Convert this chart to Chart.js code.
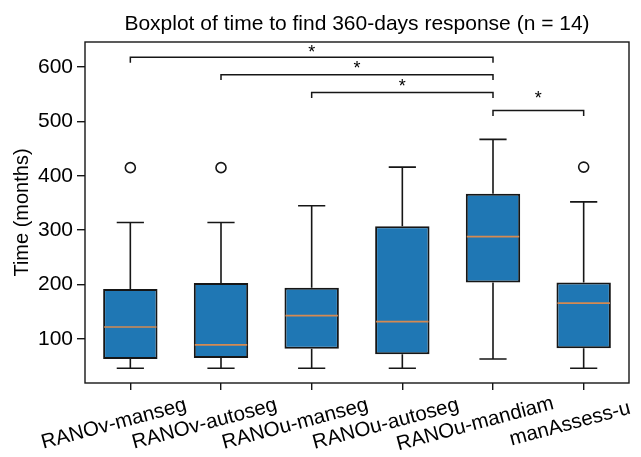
<!DOCTYPE html>
<html>
<head>
<meta charset="utf-8">
<script src="https://cdn.jsdelivr.net/npm/chart.js@4.4.1/dist/chart.umd.min.js"></script>
<style>
  body { margin: 0; background: #fff; }
  #wrap { width: 641px; height: 457px; position: relative; }
</style>
</head>
<body>
<div id="wrap"><canvas id="myChart"></canvas></div>
<script>
// datos
const categorias = ['RANOv-manseg', 'RANOv-autoseg', 'RANOu-manseg', 'RANOu-autoseg', 'RANOu-mandiam', 'manAssess-u'];
const bigoteBajo = [46, 46, 46, 46, 63, 46];
const q1 = [63, 65, 82, 72, 204, 83];
const medianas = [122, 89, 143, 132, 288, 166];
const q3 = [192, 203, 194, 307, 367, 204];
const bigoteAlto = [314, 314, 345, 416, 467, 352];
const atipicos = [415, 415, null, null, null, 416];
const ticksY = [100, 200, 300, 400, 500, 600];

// corchetes de significancia
const corcheteDesde = [0, 1, 2, 4];
const corcheteHasta = [4, 4, 4, 5];
const corcheteNivel = [618, 586, 553, 520];
const estrellaNivel = [632, 601, 569, 546];

const titulo = 'Boxplot of time to find 360-days response (n = 14)';
const tituloY = 'Time (months)';

const fuente = '"Liberation Sans", Arial, sans-serif';
const azul = '#1f77b4';
const colorMediana = '#d58a52';
const negro = '#161616';

const dibujoCajas = {
  id: 'dibujoCajas',
  afterDatasetsDraw(chart) {
    const ctx = chart.ctx;
    const x = chart.scales.x;
    const y = chart.scales.y;
    const area = chart.chartArea;
    const paso = x.getPixelForValue(1) - x.getPixelForValue(0);
    const anchoCaja = paso * 0.6;
    const anchoTapa = anchoCaja / 2;

    ctx.save();
    ctx.lineCap = 'butt';
    for (let i = 0; i < categorias.length; i++) {
      const cx = x.getPixelForValue(i);
      // bigotes
      ctx.strokeStyle = negro;
      ctx.lineWidth = 1.6;
      ctx.beginPath();
      ctx.moveTo(cx, y.getPixelForValue(q3[i]));
      ctx.lineTo(cx, y.getPixelForValue(bigoteAlto[i]));
      ctx.moveTo(cx, y.getPixelForValue(q1[i]));
      ctx.lineTo(cx, y.getPixelForValue(bigoteBajo[i]));
      ctx.moveTo(cx - anchoTapa / 2, y.getPixelForValue(bigoteAlto[i]));
      ctx.lineTo(cx + anchoTapa / 2, y.getPixelForValue(bigoteAlto[i]));
      ctx.moveTo(cx - anchoTapa / 2, y.getPixelForValue(bigoteBajo[i]));
      ctx.lineTo(cx + anchoTapa / 2, y.getPixelForValue(bigoteBajo[i]));
      ctx.stroke();
      // mediana
      ctx.strokeStyle = colorMediana;
      ctx.lineWidth = 1.7;
      ctx.beginPath();
      ctx.moveTo(cx - anchoCaja / 2 + 1, y.getPixelForValue(medianas[i]));
      ctx.lineTo(cx + anchoCaja / 2 - 1, y.getPixelForValue(medianas[i]));
      ctx.stroke();
    }

    // corchetes
    ctx.strokeStyle = negro;
    ctx.lineWidth = 1.5;
    ctx.fillStyle = '#000';
    ctx.font = '18px ' + fuente;
    ctx.textAlign = 'center';
    ctx.textBaseline = 'middle';
    for (let k = 0; k < corcheteDesde.length; k++) {
      const x1 = x.getPixelForValue(corcheteDesde[k]);
      const x2 = x.getPixelForValue(corcheteHasta[k]);
      const yn = y.getPixelForValue(corcheteNivel[k]);
      const yb = y.getPixelForValue(corcheteNivel[k] - 10);
      ctx.beginPath();
      ctx.moveTo(x1, yb);
      ctx.lineTo(x1, yn);
      ctx.lineTo(x2, yn);
      ctx.lineTo(x2, yb);
      ctx.stroke();
      ctx.fillText('*', (x1 + x2) / 2, y.getPixelForValue(estrellaNivel[k]) + 3);
    }

    // marco
    ctx.strokeStyle = negro;
    ctx.lineWidth = 1.4;
    ctx.strokeRect(area.left, area.top, area.right - area.left, area.bottom - area.top);

    // titulo
    ctx.font = '21px ' + fuente;
    ctx.textBaseline = 'alphabetic';
    ctx.fillText(titulo, (area.left + area.right) / 2, 29.5);

    // etiquetas del eje x
    ctx.font = '20.5px ' + fuente;
    ctx.textBaseline = 'middle';
    for (let i = 0; i < categorias.length; i++) {
      const w = ctx.measureText(categorias[i]).width;
      const cx = x.getPixelForValue(i) - 0.11 * w;
      ctx.save();
      ctx.translate(cx, area.bottom + 41);
      ctx.rotate(-15 * Math.PI / 180);
      ctx.fillText(categorias[i], 0, 0);
      ctx.restore();
    }
    ctx.restore();
  }
};

const config = {
  type: 'bar',
  data: {
    labels: categorias,
    datasets: [
      {
        type: 'bar',
        data: q1.map((v, i) => [v, q3[i]]),
        backgroundColor: azul,
        borderColor: negro,
        borderWidth: 2,
        borderSkipped: false,
        barPercentage: 0.6,
        categoryPercentage: 1.0
      },
      {
        type: 'line',
        data: atipicos,
        showLine: false,
        pointStyle: 'circle',
        pointRadius: 5,
        pointBackgroundColor: 'rgba(0,0,0,0)',
        pointBorderColor: negro,
        pointBorderWidth: 1.6
      }
    ]
  },
  options: {
    responsive: true,
    maintainAspectRatio: false,
    animation: false,
    layout: { padding: { top: 42, right: 12, bottom: 0, left: 0 } },
    plugins: {
      legend: { display: false },
      tooltip: { enabled: false },
      title: { display: false }
    },
    scales: {
      x: {
        offset: true,
        grid: { offset: false, drawOnChartArea: false, drawTicks: true, tickLength: 7, color: negro, lineWidth: 1.4 },
        border: { display: false },
        ticks: { display: false },
        afterFit: (s) => { s.height = 74; }
      },
      y: {
        min: 19,
        max: 646,
        afterBuildTicks: (s) => { s.ticks = ticksY.map(v => ({ value: v })); },
        grid: { drawOnChartArea: false, drawTicks: true, tickLength: 8, color: negro, lineWidth: 1.4 },
        border: { display: false },
        ticks: { color: '#000', font: { family: fuente, size: 21 }, padding: 4 },
        title: { display: true, text: tituloY, color: '#000', font: { family: fuente, size: 20 }, padding: { top: 10, bottom: 0 } },
        afterFit: (s) => { s.width = 85; }
      }
    }
  },
  plugins: [dibujoCajas]
};

new Chart(document.getElementById('myChart'), config);
</script>
</body>
</html>
